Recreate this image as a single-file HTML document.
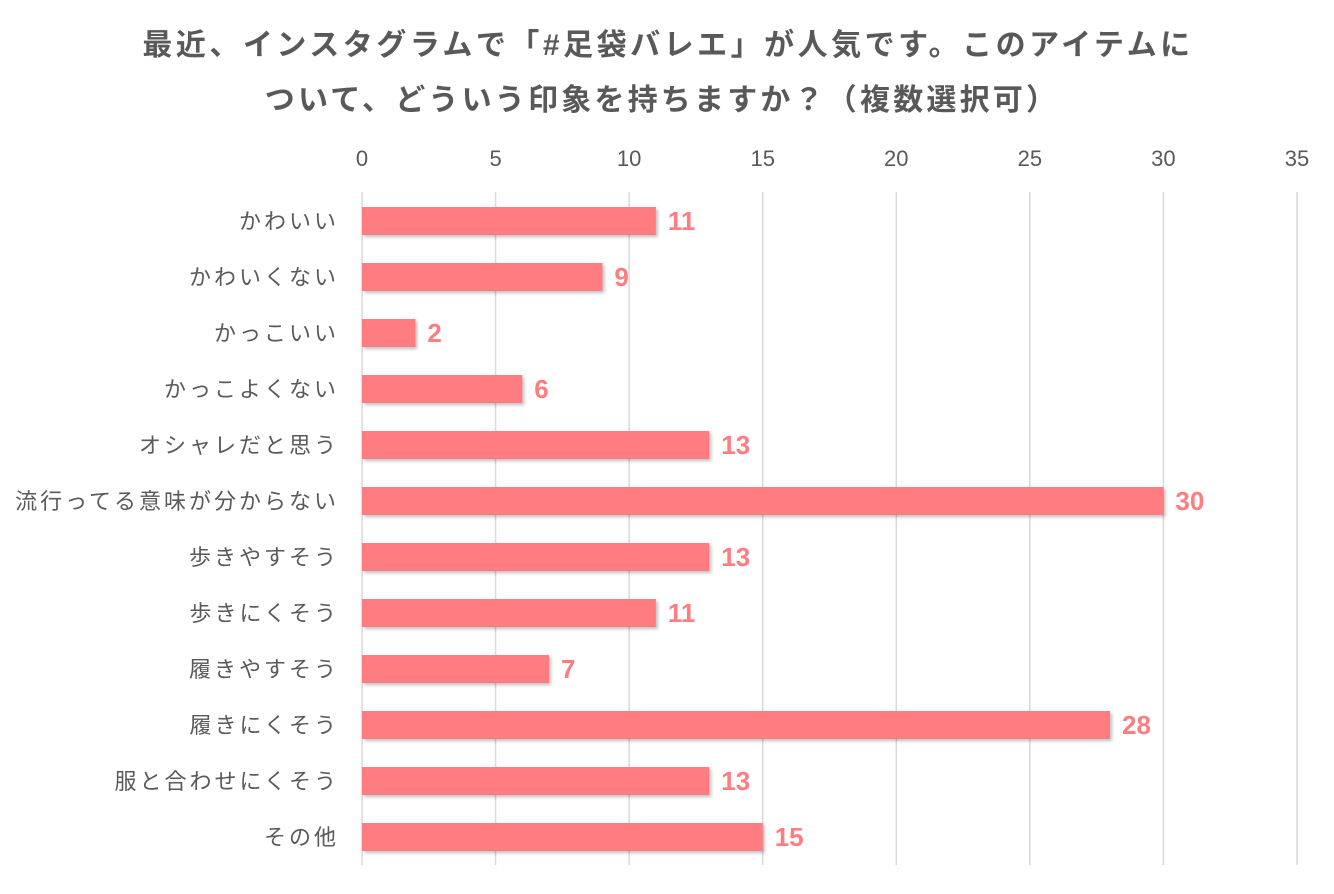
<!DOCTYPE html>
<html><head><meta charset="utf-8">
<style>
body{margin:0;background:#fff;}
svg text{font-family:"Liberation Sans","Noto Sans CJK JP",sans-serif;}
</style></head>
<body>
<svg id="chart" width="1334" height="889" xmlns="http://www.w3.org/2000/svg">
<defs><filter id="sh" x="-5%" y="-20%" width="110%" height="150%"><feDropShadow dx="2" dy="2" stdDeviation="1.5" flood-color="#000" flood-opacity="0.25"/></filter></defs>
<text x="668" y="55" text-anchor="middle" font-size="30" letter-spacing="3.5" font-weight="bold" fill="#595959">最近、インスタグラムで「#足袋バレエ」が人気です。このアイテムに</text>
<text x="662" y="110" text-anchor="middle" font-size="30" letter-spacing="3.2" font-weight="bold" fill="#595959">ついて、どういう印象を持ちますか？（複数選択可）</text>
<g id="grid"></g><g id="bars"></g>
</svg>
<script>
const categories=["かわいい","かわいくない","かっこいい","かっこよくない","オシャレだと思う","流行ってる意味が分からない","歩きやすそう","歩きにくそう","履きやすそう","履きにくそう","服と合わせにくそう","その他"];
const values=[11,9,2,6,13,30,13,11,7,28,13,15];
const ticks=[0,5,10,15,20,25,30,35];
const NS="http://www.w3.org/2000/svg";
const x0=362,x1=1297,xmax=35,yTop=192,yBot=865,y0=221,step=56,bh=28;
const xs=v=>x0+(x1-x0)*v/xmax;
const ys=i=>y0+i*step;
const grid=document.getElementById('grid'),bars=document.getElementById('bars');
function mk(tag,attrs,parent,txt){const e=document.createElementNS(NS,tag);for(const k in attrs)e.setAttribute(k,attrs[k]);if(txt!==undefined)e.textContent=txt;parent.appendChild(e);return e;}
ticks.forEach(t=>{
  const l=mk('line',{x1:xs(t),x2:xs(t),y1:yTop,y2:yBot,stroke:'#d9d9d9','stroke-width':1.5},grid);
  
  
  const tx=mk('text',{x:xs(t),y:166,'text-anchor':'middle','font-size':22,fill:'#595959'},grid,String(t));
  
  
});
categories.forEach((c,i)=>{
  const y=ys(i);
  const lb=mk('text',{x:339,y:y+8,'text-anchor':'end','font-size':22,'letter-spacing':3.0,fill:'#595959'},bars,c);
  
  
  const r=mk('rect',{x:x0,y:y-bh/2,width:xs(values[i])-x0,height:bh,fill:'#FF7C80',filter:'url(#sh)'},bars);
  
  
  const v=mk('text',{x:xs(values[i])+12,y:y+9,'font-size':26,'font-weight':'bold',fill:'#FF7C80'},bars,String(values[i]));
  
  
});
</script>
</body></html>
